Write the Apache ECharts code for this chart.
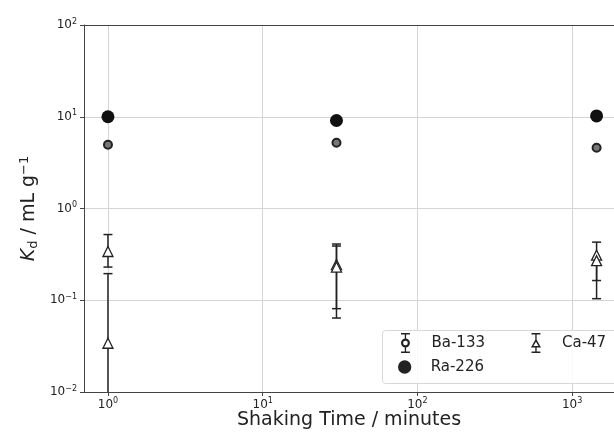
<!DOCTYPE html>
<html>
<head>
<meta charset="utf-8">
<script src="https://cdn.jsdelivr.net/npm/echarts@6/dist/echarts.min.js"></script>
<style>
  html, body { margin: 0; padding: 0; background: #fff; }
  #chart { width: 614px; height: 432px; }
</style>
</head>
<body>
<div id="chart"></div>
<script>
// Shaking times (minutes)
const times = [1, 30, 1440];

// Distribution coefficients Kd (mL/g)
const ba133 = [4.95, 5.2, 4.6];
const ra226 = [10.0, 9.1, 10.2];

// Ca-47 replicates: value, lower bound, upper bound (0 = below plotted range)
const ca47A = [0.34, 0.245, 0.31];
const ca47ALow = [0.23, 0.081, 0.164];
const ca47AHigh = [0.52, 0.41, 0.43];
const ca47B = [0.034, 0.23, 0.27];
const ca47BLow = [0, 0.064, 0.104];
const ca47BHigh = [0.195, 0.39, 0.25];

// Axis ranges
const xRange = [0.70, 1866];
const yRange = [0.01, 100];

const ink = '#222';
const frame = '#444';
const font = 'DejaVu Sans';

function pairs(xs, ys) { return xs.map((x, i) => [x, ys[i]]); }
function bars(xs, lo, hi) { return xs.map((x, i) => [x, lo[i], hi[i]]); }

function decadeLabel(v) {
  const e = Math.round(Math.log10(v));
  return '10{s|' + String(e).replace('-', '\u2212') + '}';
}

function renderErrorBar(params, api) {
  const cs = params.coordSys;
  const x = api.value(0), lo = api.value(1), hi = api.value(2);
  const top = api.coord([x, hi]);
  const bottomEdge = cs.y + cs.height;
  let yLo, loCap = true;
  if (lo <= 0) { yLo = bottomEdge; loCap = false; }
  else { yLo = api.coord([x, lo])[1]; }
  const cx = top[0], w = 4.5;
  const st = { stroke: ink, lineWidth: 1.5 };
  const kids = [
    { type: 'line', shape: { x1: cx, y1: top[1], x2: cx, y2: yLo }, style: st },
    { type: 'line', shape: { x1: cx - w, y1: top[1], x2: cx + w, y2: top[1] }, style: st }
  ];
  if (loCap) kids.push({ type: 'line', shape: { x1: cx - w, y1: yLo, x2: cx + w, y2: yLo }, style: st });
  return { type: 'group', children: kids };
}

// Legend glyphs: error-bar caps with the series marker
const caps = 'M3,1 H11 V2.4 H3 Z M3,17.6 H11 V19 H3 Z ';
const iconBa = 'path://' + caps + 'M6.4,1 H7.6 V6 H6.4 Z M6.4,14 H7.6 V19 H6.4 Z ' +
  'M7,6 A4,4 0 1,1 7,14 A4,4 0 1,1 7,6 Z M7,7.9 A2.1,2.1 0 1,0 7,12.1 A2.1,2.1 0 1,0 7,7.9 Z';
const iconCa = 'path://' + caps + 'M6.4,1 H7.6 V7 H6.4 Z M6.4,14 H7.6 V19 H6.4 Z ' +
  'M7,6 L11.5,14 L2.5,14 Z M7,8.8 L4.7,12.8 L9.3,12.8 Z';
const iconRa = 'path://M1,10 A6,6 0 1,1 13,10 A6,6 0 1,1 1,10 Z M3,1 H11 V1.01 H3 Z M3,18.99 H11 V19 H3 Z';

const legendCommon = {
  itemWidth: 14, itemHeight: 20, padding: 0,
  textStyle: { fontFamily: font, fontSize: 15, color: ink, padding: [0, 0, 0, 14] },
  inactiveColor: ink,
  selectedMode: false,
  itemStyle: { color: ink, borderWidth: 0 }
};

const axisLabelCommon = {
  fontFamily: font, fontSize: 12, color: ink,
  formatter: decadeLabel,
  rich: { s: { fontFamily: font, fontSize: 8, verticalAlign: 'top', padding: [0, 0, 7, 0] } }
};

const chart = echarts.init(document.getElementById('chart'), null, { renderer: 'canvas' });
chart.setOption({
  animation: false,
  backgroundColor: '#fff',
  grid: { left: 84, top: 25, right: 0, bottom: 40, outerBoundsMode: 'none', containLabel: false },
  xAxis: [{
    type: 'log', logBase: 10,
    min: xRange[0], max: xRange[1],
    name: 'Shaking Time / minutes',
    nameLocation: 'middle', nameGap: 19, nameMoveOverlap: false,
    nameTextStyle: { fontFamily: font, fontSize: 19, color: ink },
    axisLine: { show: true, lineStyle: { color: frame, width: 1 } },
    axisTick: { show: true, length: 4, lineStyle: { color: frame } },
    axisLabel: Object.assign({ showMinLabel: false, showMaxLabel: false, margin: 5 }, axisLabelCommon),
    splitLine: { show: true, lineStyle: { color: '#d4d4d4', width: 1 } }
  }, {
    // top frame line
    type: 'log', logBase: 10, position: 'top',
    min: xRange[0], max: xRange[1],
    axisLine: { show: true, lineStyle: { color: frame, width: 1 } },
    axisTick: { show: false }, axisLabel: { show: false }, splitLine: { show: false }
  }],
  yAxis: {
    type: 'log', logBase: 10,
    min: yRange[0], max: yRange[1],
    name: '{i|K}{sub|d} / mL g{sup|\u22121}',
    nameLocation: 'middle', nameGap: 44, nameRotate: 90, nameMoveOverlap: false,
    nameTextStyle: {
      fontFamily: font, fontSize: 19, color: ink,
      rich: {
        i: { fontFamily: font, fontSize: 19, fontStyle: 'italic', color: ink },
        sub: { fontFamily: font, fontSize: 13, color: ink, padding: [9, 0, 0, 0] },
        sup: { fontFamily: font, fontSize: 13, color: ink, padding: [0, 0, 9, 0] }
      }
    },
    axisLine: { show: true, lineStyle: { color: frame, width: 1 } },
    axisTick: { show: true, length: 4, lineStyle: { color: frame } },
    axisLabel: Object.assign({ margin: 7 }, axisLabelCommon),
    splitLine: { show: true, lineStyle: { color: '#d4d4d4', width: 1 } }
  },
  graphic: [{
    type: 'rect', left: 382, top: 330, z: 90,
    shape: { width: 240, height: 53, r: 3 },
    style: { fill: 'rgba(255,255,255,0.85)', stroke: '#d8d8d8', lineWidth: 1 }
  }],
  legend: [
    Object.assign({}, legendCommon, {
      left: 401, top: 333, itemGap: 46, z: 100,
      data: [{ name: 'Ba-133', icon: iconBa }, { name: 'Ca-47', icon: iconCa }]
    }),
    Object.assign({}, legendCommon, {
      left: 398, top: 357, z: 100,
      data: [{ name: 'Ra-226', icon: iconRa }]
    })
  ],
  series: [
    {
      type: 'custom', name: 'Ca-47 range A', renderItem: renderErrorBar,
      data: bars(times, ca47ALow, ca47AHigh), z: 3, silent: true
    },
    {
      type: 'custom', name: 'Ca-47 range B', renderItem: renderErrorBar,
      data: bars(times, ca47BLow, ca47BHigh), z: 3, silent: true
    },
    {
      type: 'scatter', name: 'Ca-47',
      data: pairs(times, ca47A).concat(pairs(times, ca47B)),
      symbol: 'triangle', symbolSize: 10, z: 4,
      itemStyle: { color: '#fff', borderColor: ink, borderWidth: 1.3, opacity: 1 }
    },
    {
      type: 'scatter', name: 'Ba-133',
      data: pairs(times, ba133),
      symbol: 'circle', symbolSize: 8, z: 4,
      itemStyle: { color: '#777', borderColor: ink, borderWidth: 2, opacity: 1 }
    },
    {
      type: 'scatter', name: 'Ra-226',
      data: pairs(times, ra226),
      symbol: 'circle', symbolSize: 13, z: 4,
      itemStyle: { color: '#111', borderColor: '#111', borderWidth: 0, opacity: 1 }
    }
  ]
});
</script>
</body>
</html>
